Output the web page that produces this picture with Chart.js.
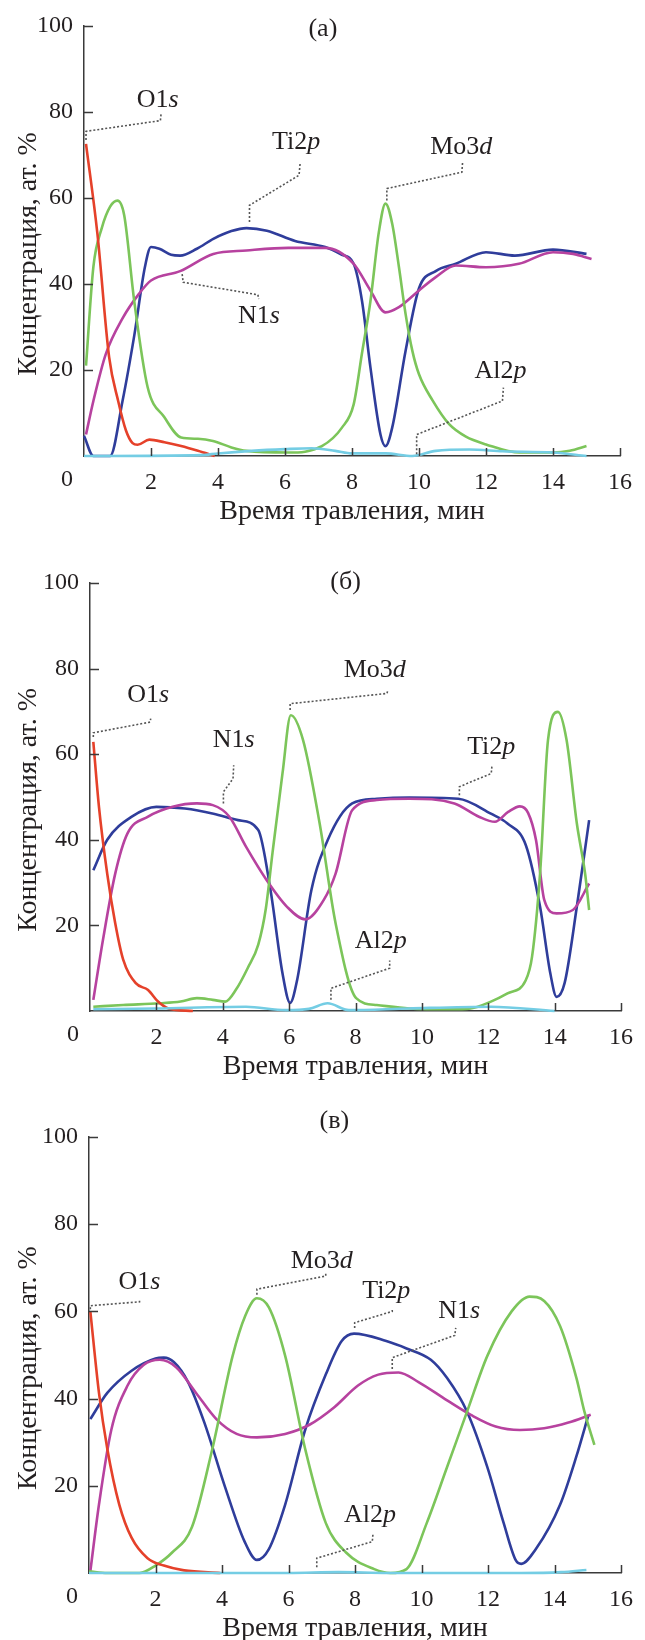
<!DOCTYPE html>
<html lang="ru">
<head>
<meta charset="utf-8">
<title>Концентрация элементов по глубине</title>
<script src="https://cdn.jsdelivr.net/npm/chart.js@4.4.1/dist/chart.umd.min.js"></script>
<style>
  html, body { margin: 0; padding: 0; background: #fff; }
  body { width: 645px; height: 1640px; position: relative; overflow: hidden; }
  canvas { position: absolute; left: 0; }
</style>
</head>
<body>
<canvas id="chartA" width="645" height="540" style="top:0"></canvas>
<canvas id="chartB" width="645" height="555" style="top:540px"></canvas>
<canvas id="chartC" width="645" height="545" style="top:1095px"></canvas>
<script>
// Tick values
const xTicks = [0, 2, 4, 6, 8, 10, 12, 14, 16];
const yTicks = [0, 20, 40, 60, 80, 100];

// Panel (а): [время, ат. %]
const oA = [[0.06,72.6],[0.4,51.7],[0.75,23],[1.02,12.8],[1.25,6],[1.45,3],[1.6,2.6],[1.95,3.8],[2.4,3.2],[2.9,2.3],[3.4,1.2],[3.9,0]];
const moA = [[0.06,21],[0.28,44],[0.53,53],[0.78,58],[1.0,59.4],[1.2,56],[1.5,36],[1.9,16],[2.4,9],[2.9,4.3],[3.4,4],[3.85,3.5],[4.4,2],[4.85,1.2],[6.1,0.8],[7.1,2.3],[7.7,6.6],[8.05,12],[8.3,24],[8.55,36],[8.8,52],[9.0,58.7],[9.2,54],[9.4,44],[9.6,33],[9.8,24.5],[10.0,19],[10.4,13],[10.9,7.4],[11.4,4.5],[12.0,2.7],[13,0.8],[14,0.8],[14.5,1.2],[15,2.3]];
const tiA = [[0,4.7],[0.28,0],[0.78,0],[1.15,12.8],[1.5,28],[1.82,44],[2.0,48.6],[2.25,48.2],[2.6,46.8],[2.87,46.6],[3.37,48.2],[3.86,50.5],[4.4,52.3],[4.85,53],[5.46,52.4],[6.3,50],[7.2,48.6],[7.7,46.8],[8.05,44.7],[8.3,36],[8.55,20.6],[8.85,5],[9.0,2.3],[9.2,6.6],[9.6,24.5],[10.0,39],[10.5,43],[11.1,44.7],[12.0,47.4],[12.86,46.6],[14.0,48],[15.0,47]];
const nA = [[0.06,5],[0.28,12.8],[0.65,23.7],[1.15,32],[1.64,37.7],[2.0,40.8],[2.87,43],[3.86,47],[4.85,47.8],[6.1,48.4],[7.2,48.4],[8.05,44.7],[8.55,38.5],[9.0,33.4],[9.4,34.6],[10.0,38.5],[10.5,41.6],[11.1,44.3],[12,43.9],[12.98,44.7],[14.0,47.4],[14.6,47],[15.15,45.8]];
const alA = [[0,0],[3.5,0.2],[4,0.6],[5,1.2],[6,1.6],[6.8,1.8],[7.5,1.2],[8,0.6],[9,0.6],[9.8,0],[10.5,1.2],[11.5,1.5],[12.5,1.1],[14,0.8],[15,0]];

// Panel (б)
const oB = [[0.1,62.9],[0.27,47.7],[0.52,32],[0.76,20.5],[1.0,12],[1.38,6.5],[1.75,4.9],[2.05,2.2],[2.36,0.6],[3.1,0]];
const moB = [[0.1,1.0],[1.0,1.4],[2.1,1.8],[2.73,2.2],[3.22,3.0],[3.7,2.6],[4.08,2.2],[4.4,5],[4.75,10],[5.07,15.5],[5.3,24],[5.5,37],[5.8,55.5],[6.05,69.1],[6.42,63.3],[6.92,43.8],[7.4,20.5],[8.02,3],[8.64,1.4],[9.62,0.6],[10.86,0.4],[11.47,0.6],[12.08,2.2],[12.58,4.1],[13.13,7.2],[13.32,12.7],[13.56,32],[13.8,63.3],[14.1,69.9],[14.36,63.3],[14.67,43.8],[14.92,32],[15.04,23.6]];
const tiB = [[0.1,32.9],[0.52,40],[1.26,45.4],[2.0,47.7],[2.86,47.3],[3.72,46.1],[4.46,44.6],[5.07,42.3],[5.44,28.2],[5.8,8.8],[6.03,1.9],[6.24,7.2],[6.67,28.2],[7.16,39.9],[7.9,48.5],[8.64,49.6],[9.62,49.9],[11.1,49.6],[12.08,46.1],[12.58,43.8],[13.13,38.8],[13.56,24.4],[13.87,8.8],[14.06,3.3],[14.3,6.5],[14.67,24.4],[15.04,44.6]];
const nB = [[0.1,2.6],[0.39,16.6],[0.76,32.1],[1.13,41.5],[1.75,45.4],[2.49,47.7],[3.22,48.5],[3.7,48.1],[4.2,45.4],[4.7,38.4],[5.32,30.6],[5.93,24.4],[6.49,21.4],[7.04,25.9],[7.4,32.1],[7.9,46.9],[8.64,49.3],[9.62,49.6],[10.98,48.5],[11.72,45.4],[12.2,44.2],[12.6,46.5],[12.95,47.8],[13.2,46.3],[13.44,39.9],[13.69,25.9],[14.06,22.8],[14.55,23.6],[15.04,29.8]];
const alB = [[0.1,0.4],[2,0.6],[4.7,1],[5.9,0.2],[6.6,0.5],[7.16,1.8],[7.8,0.2],[9.6,0.6],[12.08,1],[14,0]];

// Panel (в)
const oC = [[0.04,60],[0.3,41.3],[0.55,28.5],[0.91,15.7],[1.28,8.1],[1.76,3.4],[2.25,1.7],[2.86,0.6],[3.95,0]];
const moC = [[0,0.4],[0.55,0],[1.52,0],[2.0,1.7],[2.5,4.7],[3.1,10.6],[3.71,28.5],[4.32,49.8],[4.7,59],[5.05,63],[5.41,60.9],[5.9,49.8],[6.5,28.5],[7.12,11.5],[7.73,4.7],[8.58,0.9],[9.06,0],[9.55,0.9],[10.16,11.5],[10.77,24.3],[11.37,37],[11.98,49.8],[12.71,60],[13.25,63.4],[13.69,62.4],[14.17,56.6],[14.66,44.7],[14.9,37],[15.2,29.4]];
const tiC = [[0.04,35.3],[0.55,41.3],[1.28,46.4],[2.0,49.2],[2.25,49.4],[2.55,48.4],[2.98,43.8],[3.47,34.5],[4.08,20],[4.68,7.2],[5.05,3],[5.41,5.5],[5.9,15.7],[6.5,32.8],[7.12,45.5],[7.6,53.2],[7.97,54.9],[8.94,53.2],[9.55,51.5],[10.28,48.9],[10.77,44.7],[11.37,37],[11.98,24.3],[12.47,11.5],[12.83,3],[13.0,2.1],[13.44,5.5],[14.17,15.7],[14.66,26.8],[15.02,36.2]];
const nC = [[0.04,0.4],[0.3,15.7],[0.67,32.8],[1.16,43],[1.64,47.7],[2.13,48.9],[2.62,47.2],[3.22,41.3],[3.83,35.3],[4.44,31.9],[5.05,31.1],[5.9,31.9],[6.63,34],[7.36,37.9],[8.09,43],[8.7,45.5],[9.31,46],[9.91,43.8],[10.77,39.6],[11.5,36.2],[12.23,33.6],[12.96,32.8],[13.69,33.2],[14.42,34.5],[15.09,36.3]];
const alC = [[0,0],[6,0],[7.5,0.2],[9,0],[13,0],[14.2,0.2],[14.96,0.7]];

// Callout labels: [normal part, italic part, label x, label y, leader points]
const notesA = [
    ['O1', 's', 2.2, 82.8, [[0.06,73.5],[0.06,75.5],[2.28,78],[2.3,79.5]]],
    ['Ti2', 'p', 6.33, 73, [[4.94,54.4],[4.94,58.3],[6.42,65.3],[6.45,68]]],
    ['Mo3', 'd', 11.26, 71.9, [[9.04,59.4],[9.04,62.2],[11.28,66],[11.3,68.2]]],
    ['N1', 's', 5.22, 32.6, [[2.93,42.3],[2.96,40.4],[5.19,37.5],[5.22,36.5]]],
    ['Al2', 'p', 12.43, 19.8, [[9.93,0.4],[9.93,5],[12.49,12.8],[12.52,15.9]]]
];
const notesB = [
    ['O1', 's', 1.75, 73.8, [[0.1,64],[0.1,65],[1.81,67.5],[1.83,68.3]]],
    ['N1', 's', 4.33, 63.3, [[4.02,48.5],[4.02,51.2],[4.31,54.3],[4.33,57.4]]],
    ['Mo3', 'd', 8.58, 79.6, [[6.03,70.3],[6.03,71.8],[8.95,74.2],[8.97,74.9]]],
    ['Ti2', 'p', 12.09, 61.7, [[11.13,50.4],[11.13,52.4],[12.09,55.5],[12.11,57.2]]],
    ['Al2', 'p', 8.76, 16.2, [[7.26,2.6],[7.26,5.3],[9.03,10],[9.03,11.8]]]
];
const notesC = [
    ['O1', 's', 1.52, 66.8, [[0.04,60.5],[0.04,61.3],[1.52,62.2],[1.52,62.6]]],
    ['Mo3', 'd', 7.0, 71.5, [[5.05,63.8],[5.05,65.1],[7.12,68.1],[7.12,68.7]]],
    ['Ti2', 'p', 8.94, 64.7, [[7.99,56.2],[7.99,57.4],[9.12,60],[9.12,60.7]]],
    ['N1', 's', 11.13, 60, [[9.12,46.8],[9.12,49.4],[11.0,54.5],[11.03,56.2]]],
    ['Al2', 'p', 8.45, 13.2, [[6.85,1.3],[6.85,3.4],[8.52,7.2],[8.54,8.9]]]
];

const X_TITLE = 'Время травления, мин';
const Y_TITLE = 'Концентрация, ат. %';

const FONT = '"Liberation Serif", "Times New Roman", serif';
const INK = '#231f20';
const AXIS = '#3a3a3a';
const COLORS = { o: '#e5412a', mo: '#7cc55a', ti: '#2f3d9b', n: '#b7429f', al: '#74cde4' };

const toXY = arr => arr.map(p => ({ x: p[0], y: p[1] }));

// Inward ticks, origin label, titles and callouts
const decorPlugin = {
    id: 'decor',
    afterDraw(chart, args, opts) {
        const { ctx, chartArea: ca, scales } = chart;
        const sx = scales.x, sy = scales.y;
        ctx.save();

        ctx.strokeStyle = AXIS;
        ctx.lineWidth = 1.5;
        ctx.beginPath();
        yTicks.forEach(v => {
            if (v === 0) return;
            const py = Math.round(sy.getPixelForValue(v)) + 0.5;
            ctx.moveTo(ca.left, py);
            ctx.lineTo(ca.left + 9, py);
        });
        xTicks.forEach(v => {
            if (v === 0) return;
            const px = Math.round(sx.getPixelForValue(v)) + 0.5;
            ctx.moveTo(px, ca.bottom);
            ctx.lineTo(px, ca.bottom - 8);
        });
        ctx.stroke();

        ctx.fillStyle = INK;
        ctx.textAlign = 'center';
        ctx.textBaseline = 'middle';
        ctx.font = '24px ' + FONT;
        ctx.fillText('0', ca.left - 17, ca.bottom + 24);
        ctx.font = '26px ' + FONT;
        ctx.fillText(opts.tag, sx.getPixelForValue(opts.tagAt[0]), sy.getPixelForValue(opts.tagAt[1]));
        ctx.font = '28px ' + FONT;
        ctx.fillText(X_TITLE, (ca.left + ca.right) / 2, ca.bottom + 56);

        ctx.save();
        ctx.translate(29, sy.getPixelForValue(47));
        ctx.rotate(-Math.PI / 2);
        ctx.fillText(Y_TITLE, 0, 0);
        ctx.restore();

        // callouts
        opts.notes.forEach(n => {
            const [plain, ital, lx, ly, pts] = n;
            ctx.strokeStyle = '#555';
            ctx.lineWidth = 1.6;
            ctx.setLineDash([2, 2]);
            ctx.beginPath();
            pts.forEach((p, i) => {
                const px = sx.getPixelForValue(p[0]), py = sy.getPixelForValue(p[1]);
                if (i === 0) ctx.moveTo(px, py); else ctx.lineTo(px, py);
            });
            ctx.stroke();
            ctx.setLineDash([]);

            const fPlain = '26px ' + FONT, fItal = 'italic 26px ' + FONT;
            ctx.font = fPlain;
            const w1 = ctx.measureText(plain).width;
            ctx.font = fItal;
            const w2 = ctx.measureText(ital).width;
            const cx = sx.getPixelForValue(lx), cy = sy.getPixelForValue(ly);
            const x0 = cx - (w1 + w2) / 2;
            ctx.textAlign = 'left';
            ctx.font = fPlain;
            ctx.fillText(plain, x0, cy);
            ctx.font = fItal;
            ctx.fillText(ital, x0 + w1, cy);
            ctx.textAlign = 'center';
        });

        ctx.restore();
    }
};

function line(data, color) {
    return {
        data: toXY(data),
        borderColor: color,
        borderWidth: 2.6,
        pointRadius: 0,
        fill: false,
        cubicInterpolationMode: 'monotone',
        clip: false
    };
}

function makePanel(id, box, series, notes, tag, tagAt) {
    const canvas = document.getElementById(id);
    const W = canvas.width, H = canvas.height;
    return new Chart(canvas, {
        type: 'line',
        data: {
            datasets: [
                line(series.al, COLORS.al),
                line(series.o, COLORS.o),
                line(series.mo, COLORS.mo),
                line(series.n, COLORS.n),
                line(series.ti, COLORS.ti)
            ]
        },
        plugins: [decorPlugin],
        options: {
            responsive: false,
            animation: false,
            layout: {
                autoPadding: false,
                padding: { left: 0, top: box.top, right: W - box.right, bottom: 0 }
            },
            plugins: {
                legend: { display: false },
                tooltip: { enabled: false },
                decor: { notes: notes, tag: tag, tagAt: tagAt }
            },
            scales: {
                x: {
                    type: 'linear',
                    min: 0,
                    max: 16,
                    afterBuildTicks: s => { s.ticks = xTicks.map(v => ({ value: v })); },
                    afterFit: s => { s.height = H - box.bottom; },
                    grid: { display: false, drawTicks: false },
                    border: { display: true, color: AXIS, width: 1.5 },
                    ticks: {
                        padding: 12,
                        maxRotation: 0,
                        color: INK,
                        font: { family: FONT, size: 24 },
                        callback: v => (v === 0 ? '' : v)
                    }
                },
                y: {
                    type: 'linear',
                    min: 0,
                    max: 100,
                    afterBuildTicks: s => { s.ticks = yTicks.map(v => ({ value: v })); },
                    afterFit: s => { s.width = box.left; },
                    grid: { display: false, drawTicks: false },
                    border: { display: true, color: AXIS, width: 1.5 },
                    ticks: {
                        padding: 11,
                        color: INK,
                        font: { family: FONT, size: 24 },
                        callback: v => (v === 0 ? '' : v)
                    }
                }
            }
        }
    });
}

makePanel('chartA', { left: 84, right: 620, top: 26, bottom: 456 },
    { o: oA, mo: moA, ti: tiA, n: nA, al: alA }, notesA, '(а)', [7.13, 99.3]);
makePanel('chartB', { left: 90, right: 625, top: 43, bottom: 471 },
    { o: oB, mo: moB, ti: tiB, n: nB, al: alB }, notesB, '(б)', [7.7, 100.2]);
makePanel('chartC', { left: 89, right: 627, top: 42, bottom: 478 },
    { o: oC, mo: moC, ti: tiC, n: nC, al: alC }, notesC, '(в)', [7.38, 103.7]);
</script>
</body>
</html>
